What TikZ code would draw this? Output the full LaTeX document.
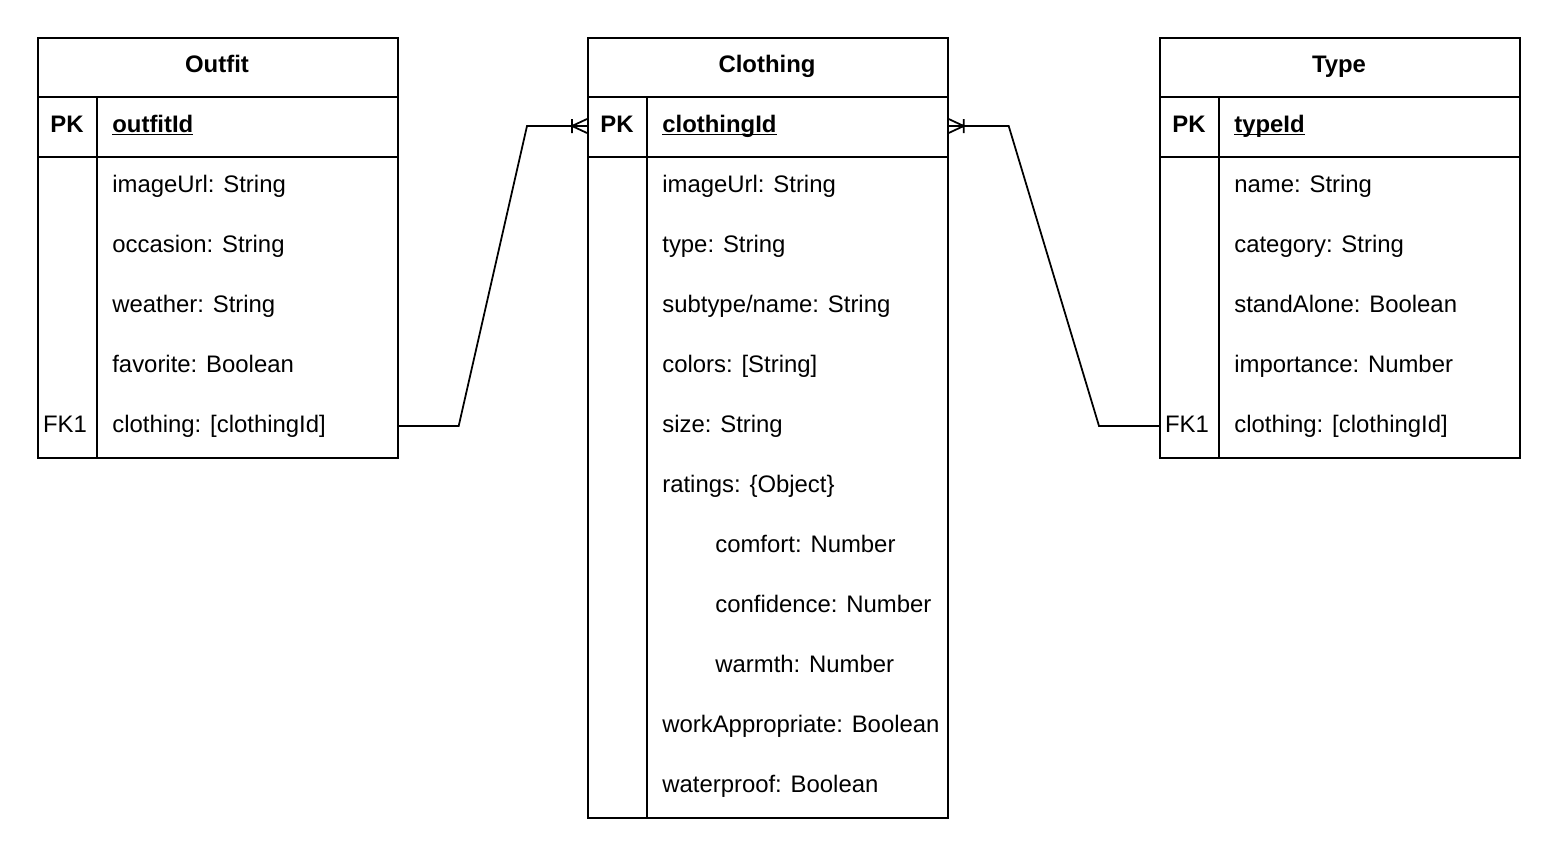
\documentclass[tikz,border=0pt]{standalone}
\usepackage{fontspec}
\setmainfont{Liberation Sans}
\usetikzlibrary{calc}

\tikzset{
  tbl/.style={draw, line width=1pt, anchor=north west, inner sep=0pt, minimum width=7.2cm},
  fld/.style={anchor=west, inner sep=0pt, text height=10pt, text depth=3pt,
    font=\fontsize{13.6}{16}\selectfont},
  key/.style={fld, anchor=center},
  ttl/.style={anchor=center, inner sep=0pt, text height=10pt, text depth=3pt,
    font=\fontsize{13.6}{16}\selectfont\bfseries},
  rel/.style={line width=1pt},
  crowfoot/.pic={\draw[rel] (0,-7) -- (-15,0) -- (0,7) (-15,-7) -- (-15,7);}
}
\newcommand{\pkname}[1]{\underline{\smash{#1}}}

\begin{document}
\begin{tikzpicture}[x=0.02cm,y=-0.02cm]
  \useasboundingbox (0,0) rectangle (1558,852);

  % Outfit
  \node[tbl, minimum height=8.4cm] (outfit) at (37,37) {};
  \draw[rel] (37,97) -- (397,97) (37,157) -- (397,157) (97,97) -- (97,457);
  \node[ttl] (oTitle) at (217,66) {Outfit};
  \node[key, font=\fontsize{13.6}{16}\selectfont\bfseries] (oPKk) at (67,126) {PK};
  \node[fld, font=\fontsize{13.6}{16}\selectfont\bfseries] (oPK) at (112,126) {\pkname{outfitId}};
  \node[fld] (oImg)  at (112,186) {imageUrl: String};
  \node[fld] (oOcc)  at (112,246) {occasion: String};
  \node[fld] (oWea)  at (112,306) {weather: String};
  \node[fld] (oFav)  at (112,366) {favorite: Boolean};
  \node[key] (oFKk)  at (65,426) {FK1};
  \node[fld] (oFK)   at (112,426) {clothing: [clothingId]};

  % Clothing
  \node[tbl, minimum height=15.6cm] (clothing) at (587,37) {};
  \draw[rel] (587,97) -- (947,97) (587,157) -- (947,157) (647,97) -- (647,817);
  \node[ttl] (cTitle) at (767,66) {Clothing};
  \node[key, font=\fontsize{13.6}{16}\selectfont\bfseries] (cPKk) at (617,126) {PK};
  \node[fld, font=\fontsize{13.6}{16}\selectfont\bfseries] (cPK) at (662,126) {\pkname{clothingId}};
  \node[fld] (cImg)  at (662,186) {imageUrl: String};
  \node[fld] (cType) at (662,246) {type: String};
  \node[fld] (cSub)  at (662,306) {subtype/name: String};
  \node[fld] (cCol)  at (662,366) {colors: [String]};
  \node[fld] (cSize) at (662,426) {size: String};
  \node[fld] (cRat)  at (662,486) {ratings: \{Object\}};
  \node[fld] (cCom)  at (715,546) {comfort: Number};
  \node[fld] (cConf) at (715,606) {confidence: Number};
  \node[fld] (cWarm) at (715,666) {warmth: Number};
  \node[fld] (cWork) at (662,726) {workAppropriate: Boolean};
  \node[fld] (cWat)  at (662,786) {waterproof: Boolean};

  % Type
  \node[tbl, minimum height=8.4cm] (type) at (1159,37) {};
  \draw[rel] (1159,97) -- (1519,97) (1159,157) -- (1519,157) (1219,97) -- (1219,457);
  \node[ttl] (tTitle) at (1339,66) {Type};
  \node[key, font=\fontsize{13.6}{16}\selectfont\bfseries] (tPKk) at (1189,126) {PK};
  \node[fld, font=\fontsize{13.6}{16}\selectfont\bfseries] (tPK) at (1234,126) {\pkname{typeId}};
  \node[fld] (tName) at (1234,186) {name: String};
  \node[fld] (tCat)  at (1234,246) {category: String};
  \node[fld] (tAlone) at (1234,306) {standAlone: Boolean};
  \node[fld] (tImp)  at (1234,366) {importance: Number};
  \node[key] (tFKk)  at (1187,426) {FK1};
  \node[fld] (tFK)   at (1234,426) {clothing: [clothingId]};

  % relations
  \coordinate (oEnd) at (outfit.east |- oFK);
  \coordinate (cLeft) at (clothing.west |- cPK);
  \coordinate (cRight) at (clothing.east |- cPK);
  \coordinate (tEnd) at (type.west |- tFK);
  \draw[rel] (oEnd) -- ++(60,0) -- ($(cLeft)+(-60,0)$) -- (cLeft);
  \draw[rel] (cRight) -- ++(60,0) -- ($(tEnd)+(-60,0)$) -- (tEnd);
  \pic at (cLeft) {crowfoot};
  \pic[xscale=-1] at (cRight) {crowfoot};
\end{tikzpicture}
\end{document}
